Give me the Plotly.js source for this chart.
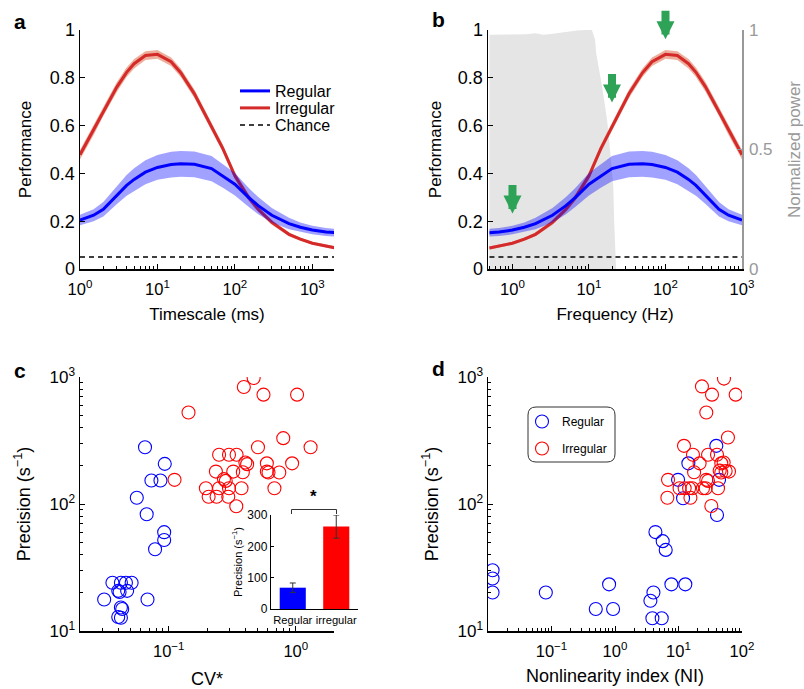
<!DOCTYPE html>
<html><head><meta charset="utf-8">
<script src="https://cdn.plot.ly/plotly-3.0.1.min.js"></script>
<style>html,body{margin:0;padding:0;background:#fff}#chart{width:804px;height:689px}</style>
</head><body><div id="chart"></div>
<script>
// ---------- Panels a & b : performance vs timescale ----------
const timescaleMs   = [1,1.5,2,3,4,5,7,10,15,20,30,50,70,100,150,200,300,500,700,1000,1500,2000];
const perfRegular   = [0.205,0.225,0.25,0.31,0.35,0.375,0.405,0.425,0.437,0.44,0.438,0.42,0.39,0.355,0.30,0.265,0.225,0.19,0.175,0.163,0.155,0.152];
const semRegular    = [0.022,0.025,0.03,0.038,0.043,0.047,0.05,0.052,0.054,0.054,0.054,0.053,0.05,0.047,0.04,0.036,0.03,0.024,0.02,0.018,0.017,0.016];
const perfIrregular = [0.478,0.581,0.66,0.762,0.823,0.859,0.893,0.898,0.867,0.821,0.733,0.597,0.504,0.39,0.30,0.25,0.195,0.145,0.125,0.108,0.095,0.088];
const semIrregular  = [0.02,0.02,0.02,0.02,0.02,0.02,0.018,0.018,0.018,0.018,0.018,0.018,0.016,0.016,0.014,0.012,0.01,0.008,0.007,0.006,0.006,0.006];
const chanceLevel = 0.05;
// power spectrum (panel b, right axis)
const powerFreqHz     = [0.5,1,1.5,2,2.5,3,4,5,7,9,10.9,12,12.4,14.9,17.3,19,20.8,21.3,22,22.6,30,100,1000];
const normalizedPower = [0.98,0.98,0.982,0.986,0.98,0.982,0.988,0.993,0.998,1.0,1.0,0.96,0.904,0.76,0.62,0.485,0.343,0.205,0.067,0,0,0,0];
// green arrows (panel b)
const arrowFreqHz = [1,20,100];
const arrowTipPerf = [0.215,0.68,0.945];

// ---------- Panel c : precision vs CV* ----------
const cvRegular     = [0.065,0.093,0.073,0.086,0.056,0.067,0.092,0.092,0.078,0.036,0.042,0.046,0.051,0.040,0.041,0.047,0.031,0.068,0.042,0.043,0.040,0.042];
const precRegularC  = [280,207,153,153,112,83,60,52,44,24,24,24,24,20.7,20.3,20.7,17.7,17.7,15.3,14.9,12.9,12.7];
const cvIrregular   = [0.466,0.390,0.557,1.024,0.143,0.797,1.308,0.504,0.249,0.298,0.342,0.401,0.414,0.592,0.936,0.235,0.322,0.383,0.592,0.610,0.742,0.111,0.272,0.281,0.196,0.249,0.298,0.374,0.679,0.206,0.238,0.294,0.340];
const precIrregularC= [982,834,726,726,526,330,280,280,244,244,244,212,206,209,209,180,180,178,180,177,177,155,157,152,133,133,133,133,133,114,114,114,96];

// ---------- Panel d : precision vs nonlinearity index ----------
const niRegular     = [0.0118,0.0118,0.0118,0.0814,0.807,0.498,0.933,4.33,5.64,6.29,7.73,12.8,4.03,3.61,3.88,5.44,39.4,14.3,9.84,43.5,11.8,40.4];
const precRegularD  = [30.1,25.9,20.1,20.1,23.3,14.9,14.9,60.1,51,43.5,23.3,23.3,20.1,17.3,12.6,12.6,287,209,155,155,111,81.9];
const niIrregular   = [52.0,23.4,33.7,79.5,27.4,60.1,12.2,16.9,29.2,40.4,21.5,47.2,51.4,44.5,55.3,62.4,47.2,17.6,6.84,27.4,29.2,10.4,12.5,14.7,16.5,24.3,26.8,41.9,6.68,15.4,32.9];
const precIrregularD= [971,843,726,726,526,334,287,244,244,244,209,209,212,183,182,180,177,178,155,155,152,133,133,133,133,133,133,133,112,112,96.4];

// ---------- Inset ----------
const insetGroups = ['Regular','irregular'];
const insetMeans  = [68,263];
const insetErr    = [15,37];

// tick labels
const decadeVals = [0.1,1,10,100,1000];
const decadeText = ['10<sup>−1</sup>','10<sup>0</sup>','10<sup>1</sup>','10<sup>2</sup>','10<sup>3</sup>'];

// ---------- helpers ----------
const W = 804, H = 689;
const px = v => v / W, py = v => 1 - v / H;
const FONT = 'Liberation Sans, Arial, Helvetica, sans-serif';
const BLUE = '#0000ff', RED = '#d42a2a';
const BLUEBAND = 'rgba(0,0,255,0.37)', REDBAND = 'rgba(222,110,75,0.55)';
const GREEN = '#2ea357', GREY = '#999999';

const freqHz = timescaleMs.map(t => 1000 / t);
const add = (a, b, s) => a.map((v, i) => v + s * b[i]);
function band(x, m, e, color, xa, ya) {
  const up = add(m, e, 1), lo = add(m, e, -1);
  return {x: x.concat(x.slice().reverse()), y: up.concat(lo.slice().reverse()),
    xaxis: xa, yaxis: ya, type: 'scatter', mode: 'lines', fill: 'toself',
    fillcolor: color, line: {width: 0}, hoverinfo: 'skip', showlegend: false};
}

const traces = [];
// panel a
traces.push(band(timescaleMs, perfIrregular, semIrregular, REDBAND, 'x', 'y'));
traces.push({x: timescaleMs, y: perfIrregular, xaxis: 'x', yaxis: 'y', mode: 'lines', name: 'Irregular', legend: 'legend3', line: {color: RED, width: 3}});
traces.push(band(timescaleMs, perfRegular, semRegular, BLUEBAND, 'x', 'y'));
traces.push({x: timescaleMs, y: perfRegular, xaxis: 'x', yaxis: 'y', mode: 'lines', name: 'Regular', legend: 'legend', line: {color: BLUE, width: 3}});
traces.push({x: [timescaleMs[0], timescaleMs[timescaleMs.length-1]], y: [chanceLevel, chanceLevel], xaxis: 'x', yaxis: 'y', mode: 'lines', name: 'Chance', legend: 'legend4', line: {color: 'black', width: 1.5, dash: '5px,4px'}});
// panel b : power (base axis y2) then curves (overlay y3)
traces.push({x: powerFreqHz, y: normalizedPower, xaxis: 'x2', yaxis: 'y2', mode: 'lines', fill: 'tozeroy', fillcolor: '#e5e5e5', line: {width: 0}, showlegend: false});
traces.push(band(freqHz, perfIrregular, semIrregular, REDBAND, 'x2', 'y3'));
traces.push({x: freqHz, y: perfIrregular, xaxis: 'x2', yaxis: 'y3', mode: 'lines', showlegend: false, line: {color: RED, width: 3}});
traces.push(band(freqHz, perfRegular, semRegular, BLUEBAND, 'x2', 'y3'));
traces.push({x: freqHz, y: perfRegular, xaxis: 'x2', yaxis: 'y3', mode: 'lines', showlegend: false, line: {color: BLUE, width: 3}});
traces.push({x: [freqHz[freqHz.length-1], freqHz[0]], y: [chanceLevel, chanceLevel], xaxis: 'x2', yaxis: 'y3', mode: 'lines', showlegend: false, line: {color: 'black', width: 1.5, dash: '5px,4px'}});
// panel c
const mk = c => ({symbol: 'circle-open', size: 13, color: c, line: {width: 1.1, color: c}});
traces.push({x: cvRegular, y: precRegularC, xaxis: 'x3', yaxis: 'y4', mode: 'markers', marker: mk(BLUE), showlegend: false});
traces.push({x: cvIrregular, y: precIrregularC, xaxis: 'x3', yaxis: 'y4', mode: 'markers', marker: mk('#ff0000'), showlegend: false});
// panel d
traces.push({x: niRegular, y: precRegularD, xaxis: 'x4', yaxis: 'y5', mode: 'markers', marker: mk(BLUE), name: 'Regular', legend: 'legend2', legendgroup: 'r'});
traces.push({x: niIrregular, y: precIrregularD, xaxis: 'x4', yaxis: 'y5', mode: 'markers', marker: mk('#ff0000'), name: 'Irregular', legend: 'legend2', legendgroup: 'i'});
// inset
traces.push({x: insetGroups, y: insetMeans, xaxis: 'x5', yaxis: 'y6', type: 'bar', width: 0.6,
  marker: {color: [BLUE, '#ff0000']}, showlegend: false,
  error_y: {type: 'data', array: insetErr, color: '#333', thickness: 1, width: 3}});

const tickF = s => ({family: FONT, size: s, color: 'black'});
const titleF = s => ({family: FONT, size: s, color: 'black'});
const baseAx = {showgrid: false, zeroline: false, showline: true, linecolor: 'black', linewidth: 1.5,
  ticks: 'inside', tickcolor: 'black', ticklen: 5, tickwidth: 1, automargin: false, fixedrange: true};
const minorLog = {ticks: 'inside', ticklen: 3, tickcolor: 'black', tickwidth: 1, dtick: 'D1', showgrid: false};
const logX = {type: 'log', tickmode: 'array', tickvals: decadeVals, ticktext: decadeText, tickfont: tickF(16.5),
  minor: minorLog, ticklabelstandoff: 5};
const legA = (row) => ({x: px(235), y: py(row), xanchor: 'left', yanchor: 'middle', bgcolor: 'rgba(0,0,0,0)',
  font: {family: FONT, size: 16, color: 'black'}, itemwidth: 30});

const layout = {
  width: W, height: H, margin: {l: 0, r: 0, t: 0, b: 0},
  paper_bgcolor: 'white', plot_bgcolor: 'rgba(0,0,0,0)',
  font: {family: FONT, color: 'black'},
  showlegend: true,
  legend: legA(91), legend3: legA(108), legend4: legA(125),
  legend2: {x: px(522), y: py(407), xanchor: 'left', yanchor: 'top', bgcolor: 'rgba(0,0,0,0)',
    font: {family: FONT, size: 12, color: 'black'}, traceorder: 'grouped', tracegroupgap: 8, itemwidth: 30},
  // panel a
  xaxis: Object.assign({}, baseAx, logX, {domain: [px(80), px(334)], anchor: 'y', range: [0, 3.28],
    title: {text: 'Timescale (ms)', font: titleF(17), standoff: 11}}),
  yaxis: Object.assign({}, baseAx, {domain: [py(269), py(30)], anchor: 'x', range: [0, 1], dtick: 0.2,
    tickfont: tickF(18), title: {text: 'Performance', font: titleF(17), standoff: 14}}),
  // panel b
  xaxis2: Object.assign({}, baseAx, logX, {domain: [px(488), px(742)], anchor: 'y2', range: [-0.32, 3],
    title: {text: 'Frequency (Hz)', font: titleF(17), standoff: 11}}),
  yaxis2: Object.assign({}, baseAx, {domain: [py(269), py(30)], anchor: 'x2', side: 'right', range: [0, 1],
    tickvals: [0, 0.5, 1], linecolor: GREY, tickcolor: GREY, tickfont: {family: FONT, size: 17, color: GREY},
    ticklabelstandoff: 2,
    title: {text: 'Normalized power', font: {family: FONT, size: 17, color: GREY}, standoff: 19}}),
  yaxis3: Object.assign({}, baseAx, {domain: [py(269), py(30)], anchor: 'x2', overlaying: 'y2', side: 'left', range: [0, 1], dtick: 0.2,
    tickfont: tickF(18), title: {text: 'Performance', font: titleF(17), standoff: 12}}),
  // panel c
  xaxis3: Object.assign({}, baseAx, logX, {domain: [px(80), px(334)], anchor: 'y4', range: [Math.log10(0.02), Math.log10(2)],
    title: {text: 'CV*', font: titleF(18), standoff: 13}}),
  yaxis4: Object.assign({}, baseAx, logX, {domain: [py(631), py(377)], anchor: 'x3', range: [1, 3], ticklabelstandoff: 0,
    tickfont: tickF(17), title: {text: 'Precision (s<sup>−1</sup>)', font: titleF(18), standoff: 14}}),
  // panel d
  xaxis4: Object.assign({}, baseAx, logX, {domain: [px(488), px(742)], anchor: 'y5', range: [-2, 2],
    title: {text: 'Nonlinearity index (NI)', font: titleF(18), standoff: 10}}),
  yaxis5: Object.assign({}, baseAx, logX, {domain: [py(631), py(377)], anchor: 'x4', range: [1, 3], ticklabelstandoff: 0,
    tickfont: tickF(17), title: {text: 'Precision (s<sup>−1</sup>)', font: titleF(18), standoff: 14}}),
  // inset
  xaxis5: Object.assign({}, baseAx, {domain: [px(271), px(358)], anchor: 'y6', type: 'category', range: [-0.5, 1.5],
    ticks: '', tickangle: 0, tickfont: tickF(11.2), linewidth: 1.2}),
  yaxis6: Object.assign({}, baseAx, {domain: [py(609), py(515)], anchor: 'x5', range: [0, 300], dtick: 100,
    ticklen: 3, tickfont: tickF(12), linewidth: 1.2,
    title: {text: 'Precision (s<sup>−1</sup>)', font: titleF(11), standoff: 2}}),
  shapes: [
    // significance bracket
    {type: 'path', xref: 'paper', yref: 'paper', line: {color: '#333', width: 1},
      path: `M${px(291.5)},${py(514)} L${px(291.5)},${py(509.5)} L${px(336.5)},${py(509.5)} L${px(336.5)},${py(514)}`},
    // rounded legend box (panel d)
    {type: 'path', xref: 'paper', yref: 'paper', line: {color: '#333', width: 1},
      path: (() => { const x0 = 528, x1 = 615, y0 = 407, y1 = 462, r = 8;
        return `M${px(x0 + r)},${py(y0)} L${px(x1 - r)},${py(y0)} Q${px(x1)},${py(y0)} ${px(x1)},${py(y0 + r)} ` +
          `L${px(x1)},${py(y1 - r)} Q${px(x1)},${py(y1)} ${px(x1 - r)},${py(y1)} L${px(x0 + r)},${py(y1)} ` +
          `Q${px(x0)},${py(y1)} ${px(x0)},${py(y1 - r)} L${px(x0)},${py(y0 + r)} Q${px(x0)},${py(y0)} ${px(x0 + r)},${py(y0)} Z`; })()}
  ],
  annotations: [
    {text: '<b>a</b>', xref: 'paper', yref: 'paper', x: px(12), y: py(8), xanchor: 'left', yanchor: 'top', showarrow: false, font: {family: FONT, size: 21}},
    {text: '<b>b</b>', xref: 'paper', yref: 'paper', x: px(430), y: py(6), xanchor: 'left', yanchor: 'top', showarrow: false, font: {family: FONT, size: 21}},
    {text: '<b>c</b>', xref: 'paper', yref: 'paper', x: px(12), y: py(357), xanchor: 'left', yanchor: 'top', showarrow: false, font: {family: FONT, size: 21}},
    {text: '<b>d</b>', xref: 'paper', yref: 'paper', x: px(430), y: py(355), xanchor: 'left', yanchor: 'top', showarrow: false, font: {family: FONT, size: 21}},
    {text: '<b>*</b>', xref: 'paper', yref: 'paper', x: px(313.5), y: py(508), xanchor: 'center', yanchor: 'bottom', showarrow: false, font: {family: FONT, size: 17}}
  ].concat(arrowFreqHz.map((f, i) => ({
    xref: 'x2', yref: 'y3', x: Math.log10(f), y: arrowTipPerf[i], ax: 0, ay: -34, axref: 'pixel', ayref: 'pixel',
    text: '', showarrow: true, arrowhead: 2, arrowsize: 0.45, arrowwidth: 8, arrowcolor: GREEN, standoff: 4
  })))
};

Plotly.newPlot('chart', traces, layout, {staticPlot: true, displayModeBar: false});
</script></body></html>
